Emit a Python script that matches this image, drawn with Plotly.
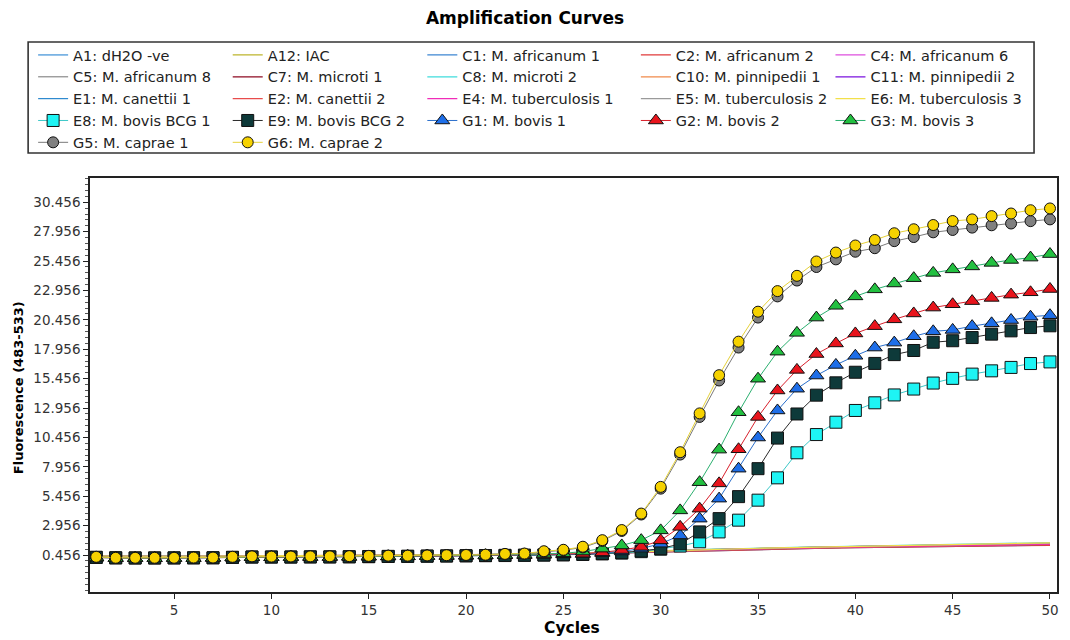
import plotly.graph_objects as go

cycles = list(range(1, 51))

# ---- non-amplifying wells ----
A1 = [0.36,0.34,0.33,0.33,0.34,0.34,0.35,0.35,0.36,0.36,0.37,0.37,0.38,0.38,0.39,0.40,0.40,0.41,0.42,0.43,0.44,0.46,0.48,0.50,0.53,0.56,0.60,0.65,0.70,0.76,0.82,0.87,0.92,0.96,1.00,1.03,1.06,1.08,1.10,1.12,1.14,1.16,1.18,1.20,1.22,1.24,1.26,1.28,1.30,1.32]
A12 = [0.38,0.36,0.35,0.35,0.35,0.36,0.36,0.37,0.37,0.38,0.38,0.39,0.39,0.40,0.41,0.41,0.42,0.43,0.44,0.45,0.47,0.49,0.51,0.54,0.57,0.61,0.65,0.70,0.75,0.80,0.86,0.91,0.96,1.00,1.04,1.07,1.10,1.13,1.16,1.18,1.21,1.23,1.26,1.28,1.31,1.33,1.36,1.38,1.41,1.44]
C1 = [0.35,0.33,0.32,0.32,0.33,0.33,0.34,0.34,0.35,0.35,0.36,0.36,0.37,0.37,0.38,0.39,0.39,0.40,0.41,0.42,0.43,0.45,0.47,0.49,0.52,0.55,0.59,0.63,0.68,0.73,0.79,0.84,0.89,0.93,0.97,1.00,1.03,1.05,1.07,1.09,1.11,1.13,1.15,1.17,1.19,1.21,1.23,1.25,1.27,1.29]
C2 = [0.34,0.32,0.31,0.31,0.32,0.32,0.33,0.33,0.34,0.34,0.35,0.35,0.36,0.36,0.37,0.38,0.38,0.39,0.40,0.41,0.42,0.44,0.46,0.48,0.51,0.54,0.58,0.62,0.67,0.72,0.78,0.83,0.88,0.92,0.96,0.99,1.02,1.04,1.06,1.08,1.10,1.12,1.14,1.16,1.18,1.20,1.22,1.24,1.26,1.28]
C4 = [0.37,0.35,0.34,0.34,0.35,0.35,0.36,0.36,0.37,0.37,0.38,0.38,0.39,0.39,0.40,0.41,0.41,0.42,0.43,0.44,0.45,0.47,0.49,0.52,0.55,0.58,0.62,0.67,0.72,0.78,0.84,0.89,0.94,0.98,1.02,1.06,1.09,1.12,1.14,1.17,1.20,1.22,1.25,1.28,1.31,1.34,1.37,1.40,1.43,1.46]
C5 = [0.36,0.35,0.34,0.34,0.34,0.35,0.35,0.36,0.36,0.37,0.37,0.38,0.38,0.39,0.40,0.40,0.41,0.42,0.43,0.44,0.45,0.47,0.49,0.51,0.54,0.57,0.61,0.66,0.71,0.77,0.83,0.88,0.93,0.97,1.01,1.05,1.08,1.11,1.14,1.17,1.20,1.23,1.25,1.28,1.30,1.33,1.35,1.38,1.40,1.42]
C7 = [0.35,0.34,0.33,0.33,0.33,0.34,0.34,0.35,0.35,0.36,0.36,0.37,0.37,0.38,0.39,0.39,0.40,0.41,0.42,0.43,0.44,0.46,0.48,0.50,0.53,0.56,0.60,0.64,0.69,0.75,0.81,0.86,0.91,0.95,0.99,1.02,1.05,1.08,1.10,1.13,1.15,1.18,1.20,1.22,1.25,1.27,1.29,1.32,1.34,1.36]
C8 = [0.37,0.36,0.35,0.35,0.35,0.36,0.36,0.37,0.37,0.38,0.38,0.39,0.39,0.40,0.41,0.42,0.42,0.43,0.44,0.45,0.46,0.48,0.50,0.53,0.56,0.60,0.64,0.69,0.74,0.80,0.86,0.91,0.96,1.01,1.05,1.09,1.12,1.15,1.18,1.21,1.24,1.27,1.30,1.33,1.36,1.39,1.42,1.45,1.48,1.51]
C10 = [0.36,0.34,0.33,0.33,0.34,0.34,0.35,0.35,0.36,0.36,0.37,0.37,0.38,0.39,0.39,0.40,0.41,0.41,0.42,0.43,0.45,0.47,0.49,0.51,0.54,0.57,0.61,0.65,0.70,0.76,0.82,0.87,0.92,0.96,1.00,1.04,1.07,1.10,1.13,1.16,1.19,1.21,1.24,1.27,1.30,1.32,1.35,1.38,1.40,1.43]
C11 = [0.35,0.33,0.32,0.32,0.33,0.33,0.34,0.34,0.35,0.35,0.36,0.36,0.37,0.38,0.38,0.39,0.40,0.40,0.41,0.42,0.44,0.46,0.48,0.50,0.53,0.56,0.60,0.65,0.70,0.76,0.82,0.87,0.92,0.97,1.01,1.05,1.08,1.11,1.14,1.17,1.19,1.22,1.25,1.27,1.30,1.32,1.35,1.37,1.40,1.42]
E1 = [0.34,0.33,0.32,0.32,0.32,0.33,0.33,0.34,0.34,0.35,0.35,0.36,0.36,0.37,0.38,0.38,0.39,0.40,0.41,0.42,0.43,0.45,0.47,0.49,0.52,0.55,0.59,0.63,0.68,0.74,0.80,0.85,0.90,0.94,0.98,1.01,1.04,1.07,1.09,1.12,1.14,1.17,1.19,1.21,1.24,1.26,1.28,1.31,1.33,1.35]
E2 = [0.33,0.32,0.31,0.31,0.31,0.32,0.32,0.33,0.33,0.34,0.34,0.35,0.35,0.36,0.37,0.37,0.38,0.39,0.40,0.41,0.42,0.44,0.46,0.48,0.51,0.54,0.58,0.62,0.67,0.73,0.79,0.84,0.89,0.93,0.97,1.00,1.03,1.06,1.08,1.11,1.13,1.15,1.18,1.20,1.22,1.24,1.27,1.29,1.31,1.33]
E4 = [0.35,0.34,0.33,0.33,0.33,0.34,0.34,0.35,0.35,0.36,0.36,0.37,0.37,0.38,0.39,0.39,0.40,0.41,0.42,0.43,0.44,0.46,0.48,0.51,0.54,0.57,0.61,0.65,0.70,0.76,0.82,0.87,0.92,0.96,1.00,1.03,1.06,1.09,1.11,1.14,1.16,1.19,1.21,1.24,1.26,1.29,1.31,1.33,1.36,1.38]
E5 = [0.36,0.35,0.34,0.34,0.35,0.35,0.36,0.36,0.37,0.37,0.38,0.38,0.39,0.39,0.40,0.41,0.42,0.42,0.43,0.44,0.46,0.48,0.50,0.52,0.55,0.58,0.62,0.67,0.72,0.78,0.84,0.89,0.94,0.98,1.02,1.06,1.09,1.12,1.15,1.18,1.21,1.24,1.27,1.29,1.32,1.35,1.38,1.40,1.43,1.46]
E6 = [0.37,0.35,0.34,0.34,0.35,0.35,0.36,0.36,0.37,0.37,0.38,0.39,0.39,0.40,0.40,0.41,0.42,0.43,0.43,0.44,0.46,0.48,0.50,0.53,0.56,0.59,0.63,0.68,0.73,0.79,0.85,0.90,0.95,0.99,1.03,1.07,1.10,1.13,1.16,1.19,1.22,1.25,1.28,1.31,1.34,1.37,1.40,1.43,1.46,1.49]

# ---- amplifying wells ----
E8 = [0.25,0.21,0.20,0.20,0.21,0.21,0.22,0.25,0.28,0.28,0.28,0.29,0.29,0.30,0.31,0.33,0.34,0.35,0.37,0.38,0.40,0.41,0.43,0.45,0.47,0.50,0.55,0.62,0.74,0.95,1.22,1.58,2.42,3.42,5.12,7.02,9.15,10.70,11.75,12.75,13.40,14.07,14.57,15.08,15.48,15.84,16.12,16.41,16.74,16.88]
E9 = [0.26,0.22,0.21,0.21,0.21,0.22,0.22,0.26,0.29,0.29,0.29,0.30,0.30,0.31,0.33,0.34,0.35,0.37,0.38,0.40,0.41,0.43,0.44,0.46,0.48,0.52,0.58,0.66,0.80,1.00,1.40,2.42,3.55,5.42,7.80,10.40,12.45,14.05,15.10,16.00,16.75,17.50,17.85,18.55,18.68,18.95,19.24,19.52,19.80,19.95]
G1 = [0.24,0.20,0.19,0.19,0.20,0.20,0.21,0.24,0.27,0.27,0.28,0.29,0.29,0.30,0.31,0.33,0.34,0.36,0.37,0.39,0.41,0.43,0.45,0.47,0.50,0.54,0.62,0.76,1.00,1.42,2.12,3.55,5.25,7.80,10.45,12.75,14.60,15.72,16.62,17.40,18.10,18.52,19.06,19.48,19.60,19.92,20.16,20.44,20.72,20.85]
G2 = [0.24,0.20,0.19,0.19,0.20,0.20,0.21,0.24,0.27,0.27,0.28,0.29,0.29,0.30,0.32,0.33,0.35,0.36,0.38,0.40,0.42,0.44,0.46,0.49,0.52,0.57,0.68,0.88,1.15,1.70,2.85,4.40,6.55,9.45,12.20,14.45,16.20,17.55,18.45,19.30,19.92,20.50,21.00,21.50,21.78,22.05,22.32,22.60,22.80,23.08]
G3 = [0.25,0.20,0.20,0.20,0.20,0.21,0.22,0.25,0.28,0.28,0.29,0.30,0.30,0.31,0.33,0.35,0.36,0.38,0.40,0.42,0.44,0.47,0.50,0.55,0.60,0.75,1.00,1.27,1.72,2.55,4.25,6.65,9.42,12.60,15.45,17.75,19.35,20.65,21.65,22.45,23.05,23.55,24.00,24.45,24.75,25.00,25.30,25.55,25.75,26.05]
G5 = [0.28,0.22,0.21,0.21,0.22,0.23,0.23,0.28,0.32,0.31,0.31,0.32,0.33,0.34,0.36,0.38,0.39,0.41,0.43,0.45,0.47,0.52,0.56,0.72,0.86,1.10,1.65,2.50,3.90,6.10,9.00,12.20,15.30,18.10,20.65,22.45,23.80,24.95,25.60,26.25,26.55,27.15,27.50,27.90,28.10,28.30,28.50,28.65,28.85,29.00]
G6 = [0.30,0.22,0.22,0.22,0.22,0.24,0.24,0.30,0.34,0.32,0.33,0.34,0.34,0.36,0.38,0.40,0.40,0.42,0.44,0.46,0.48,0.55,0.58,0.78,0.90,1.16,1.72,2.58,3.98,6.25,9.20,12.50,15.75,18.60,21.15,22.90,24.20,25.42,26.18,26.78,27.25,27.82,28.16,28.52,28.86,29.00,29.28,29.50,29.78,29.93]

names = ["A1: dH2O -ve", "A12: IAC", "C1: M. africanum 1", "C2: M. africanum 2", "C4: M. africanum 6",
         "C5: M. africanum 8", "C7: M. microti 1", "C8: M. microti 2", "C10: M. pinnipedii 1", "C11: M. pinnipedii 2",
         "E1: M. canettii 1", "E2: M. canettii 2", "E4: M. tuberculosis 1", "E5: M. tuberculosis 2", "E6: M. tuberculosis 3",
         "E8: M. bovis BCG 1", "E9: M. bovis BCG 2", "G1: M. bovis 1", "G2: M. bovis 2", "G3: M. bovis 3",
         "G5: M. caprae 1", "G6: M. caprae 2"]
series = [A1, A12, C1, C2, C4, C5, C7, C8, C10, C11, E1, E2, E4, E5, E6, E8, E9, G1, G2, G3, G5, G6]
y_tick_values = [0.456, 2.956, 5.456, 7.956, 10.456, 12.956, 15.456, 17.956, 20.456, 22.956, 25.456, 27.956, 30.456]

line_colors = ["#3A8FD6", "#BDB52C", "#3C86D2", "#E03A3A", "#DE4FDE",
               "#8A8A8A", "#8E0A22", "#3FDCDC", "#F08A4A", "#7A12DE",
               "#2F8ACF", "#E84C4C", "#F02CB8", "#9A9A9A", "#F2E04A",
               "#3CC8C8", "#2A2A2A", "#2C70CC", "#D8202C", "#2CB070",
               "#7A7A7A", "#E6D23A"]
marker_spec = {
    "E8: M. bovis BCG 1": ("square", "#1EF4F4", 12),
    "E9: M. bovis BCG 2": ("square", "#0E3A3A", 12),
    "G1: M. bovis 1": ("triangle-up", "#1E6EE8", 13),
    "G2: M. bovis 2": ("triangle-up", "#E8141C", 13),
    "G3: M. bovis 3": ("triangle-up", "#22C040", 13),
    "G5: M. caprae 1": ("circle", "#808080", 11),
    "G6: M. caprae 2": ("circle", "#F6D200", 11),
}
legend_ids = ["legend", "legend2", "legend3", "legend4", "legend5"]

fig = go.Figure()
for i, (nm, ys, col) in enumerate(zip(names, series, line_colors)):
    lg = legend_ids[i % 5]
    if nm in marker_spec:
        sym, fill, sz = marker_spec[nm]
        fig.add_trace(go.Scatter(
            x=cycles, y=ys, name=nm, mode="lines+markers", legend=lg,
            line=dict(color=col, width=1),
            marker=dict(symbol=sym, color=fill, size=sz, line=dict(color="#111111", width=1))))
    else:
        fig.add_trace(go.Scatter(
            x=cycles, y=ys, name=nm, mode="lines", legend=lg,
            line=dict(color=col, width=1.2)))

PL, PR, PT, PB = 90, 1059, 178, 592
W, H = 1070, 640
def px2paper_x(px):
    return (px - PL) / (PR - PL)
def px2paper_y(py):
    return (PB - py) / (PB - PT)

leg_font = dict(family="DejaVu Sans, sans-serif", size=14.5, color="#222222")
text_x = [73, 268, 463, 677, 872]
legends = {}
for k, lid in enumerate(legend_ids):
    legends[lid] = dict(
        x=px2paper_x(text_x[k] - 40), y=px2paper_y(39), xanchor="left", yanchor="top",
        orientation="v", font=leg_font, bgcolor="rgba(0,0,0,0)", borderwidth=0,
        tracegroupgap=0, itemclick=False, itemdoubleclick=False)

tick_font = dict(family="DejaVu Sans, sans-serif", size=13.5, color="#333333")
fig.update_layout(
    width=W, height=H,
    margin=dict(l=PL, r=W - PR, t=PT, b=H - PB, pad=0),
    paper_bgcolor="white", plot_bgcolor="white",
    title=dict(text="<b>Amplification Curves</b>", x=525 / W, xref="container",
               y=1 - 18 / H, yref="container", xanchor="center", yanchor="middle",
               font=dict(family="DejaVu Sans, sans-serif", size=17, color="#000000")),
    showlegend=True,
    **legends,
)
fig.update_xaxes(
    range=[0.68, 50.36], tick0=5, dtick=5, ticks="outside", ticklen=5, tickcolor="#222",
    showline=True, linecolor="#222", linewidth=1.5, mirror=True,
    showgrid=False, zeroline=False, tickfont=tick_font)
fig.update_yaxes(
    range=[-2.69, 32.52], tickmode="array", tickvals=y_tick_values,
    ticktext=[f"{v:.3f}" for v in y_tick_values],
    ticks="outside", ticklen=5, tickcolor="#222",
    minor=dict(ticks="outside", ticklen=3, tickmode="linear", dtick=0.5, tick0=0.456, tickcolor="#555"),
    showline=True, linecolor="#222", linewidth=1.5, mirror=True,
    showgrid=False, zeroline=False, tickfont=tick_font)

fig.add_shape(type="rect", xref="paper", yref="paper",
              x0=px2paper_x(28), x1=px2paper_x(1036), y0=px2paper_y(153), y1=px2paper_y(42),
              line=dict(color="#333333", width=1.6), fillcolor="rgba(0,0,0,0)", layer="below")

fig.add_annotation(text="<b>Fluorescence (483-533)</b>", xref="paper", yref="paper",
                   x=px2paper_x(18), y=px2paper_y(388), textangle=-90, showarrow=False,
                   xanchor="center", yanchor="middle",
                   font=dict(family="DejaVu Sans, sans-serif", size=13, color="#000"))
fig.add_annotation(text="<b>Cycles</b>", xref="paper", yref="paper",
                   x=px2paper_x(573), y=px2paper_y(628), showarrow=False,
                   xanchor="center", yanchor="middle",
                   font=dict(family="DejaVu Sans, sans-serif", size=15.5, color="#000"))

fig.write_html("out.html")
